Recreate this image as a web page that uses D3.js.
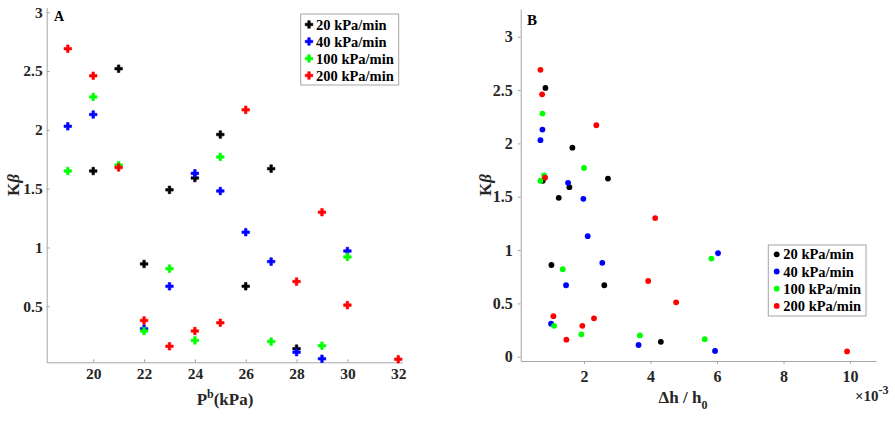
<!DOCTYPE html>
<html>
<head>
<meta charset="utf-8">
<script src="https://cdnjs.cloudflare.com/ajax/libs/d3/7.8.5/d3.min.js"></script>
<style>
  body { margin: 0; background: #fff; }
  svg { display: block; }
  .axis path, .axis line { stroke: #a6a6a6; }
  .axis text { fill: #262626; }
</style>
</head>
<body>
<div id="chart"></div>
<script>
var rates = ["20 kPa/min", "40 kPa/min", "100 kPa/min", "200 kPa/min"];
var colors = ["#000000", "#0000ff", "#00ff00", "#ff0000"];

// breakdown pressure (kPa), K*beta, and strain dh/h0 (x 10^-3)
var pb20 = [20, 21, 22, 23, 24, 25, 26, 27, 28];
var kb20 = [1.65, 2.52, 0.86, 1.49, 1.59, 1.96, 0.67, 1.67, 0.14];
var dh20 = [0.76, 0.84, 1.02, 1.24, 1.56, 1.65, 2.61, 2.72, 4.31];

var pb40 = [19, 20, 22, 23, 24, 25, 26, 27, 28, 29, 30];
var kb40 = [2.03, 2.13, 0.31, 0.67, 1.63, 1.48, 1.13, 0.88, 0.11, 0.054, 0.97];
var dh40 = [0.69, 0.75, 1.01, 1.46, 1.52, 1.98, 2.11, 2.55, 3.64, 5.94, 6.03];

var pb100 = [19, 20, 21, 22, 23, 24, 25, 27, 29, 30];
var kb100 = [1.65, 2.28, 1.70, 0.29, 0.82, 0.21, 1.77, 0.20, 0.165, 0.92];
var dh100 = [0.69, 0.75, 0.80, 1.10, 1.36, 1.92, 2.00, 3.68, 5.63, 5.83];

var pb200 = [19, 20, 21, 22, 23, 24, 25, 26, 28, 29, 30, 32];
var kb200 = [2.69, 2.46, 1.68, 0.38, 0.16, 0.29, 0.36, 2.17, 0.71, 1.30, 0.51, 0.05];
var dh200 = [0.69, 0.74, 0.83, 1.08, 1.47, 1.95, 2.30, 2.37, 3.93, 4.14, 4.77, 9.91];

var xTicksA = [20, 22, 24, 26, 28, 30, 32];
var yTicksA = [0.5, 1, 1.5, 2, 2.5, 3];
var xTicksB = [2, 4, 6, 8, 10];
var yTicksB = [0, 0.5, 1, 1.5, 2, 2.5, 3];

var series = [
  {pb: pb20, kb: kb20, dh: dh20},
  {pb: pb40, kb: kb40, dh: dh40},
  {pb: pb100, kb: kb100, dh: dh100},
  {pb: pb200, kb: kb200, dh: dh200}
];

var serif = "Liberation Serif";
var fmt = d3.format("~g");

var width = 895, height = 445;
var svg = d3.select("#chart").append("svg")
    .attr("width", width)
    .attr("height", height)
    .attr("font-family", serif)
    .attr("font-weight", "bold");

// d3 puts font attrs on the axis group, so overwrite them there
function styleAxis(g, size) {
  g.attr("font-family", serif).attr("font-weight", "bold").attr("font-size", size);
}

// ---------- panel A ----------
var xA = d3.scaleLinear().domain([18.17, 32.16]).range([46.7, 402.3]);
var yA = d3.scaleLinear().domain([0.024, 3.04]).range([362.3, 7.5]);

svg.append("g").attr("class", "axis")
    .attr("transform", "translate(0,362.3)")
    .call(d3.axisBottom(xA).tickValues(xTicksA).tickFormat(fmt).tickSizeInner(-3).tickSizeOuter(0).tickPadding(6))
    .call(g => styleAxis(g, 15.5));

svg.append("g").attr("class", "axis")
    .attr("transform", "translate(46.7,0)")
    .call(d3.axisLeft(yA).tickValues(yTicksA).tickFormat(fmt).tickSizeInner(-3).tickSizeOuter(0).tickPadding(4))
    .call(g => styleAxis(g, 15.5));

var cross = d3.symbol().type(d3.symbolCross).size(32);
series.forEach(function(s, i) {
  svg.append("g").selectAll("path")
      .data(d3.range(s.pb.length))
      .enter().append("path")
      .attr("d", cross)
      .attr("transform", d => "translate(" + xA(s.pb[d]) + "," + yA(s.kb[d]) + ")")
      .attr("fill", colors[i])
      .attr("stroke", colors[i])
      .attr("stroke-width", 0.6);
});

svg.append("text").attr("x", 54).attr("y", 21).attr("font-size", 14).text("A");

svg.append("text")
    .attr("transform", "translate(19,185) rotate(-90)")
    .attr("text-anchor", "middle")
    .attr("font-size", 17)
    .attr("fill", "#262626")
    .html('K<tspan font-style="italic">β</tspan>');

var xlabA = svg.append("text")
    .attr("x", 225).attr("y", 405)
    .attr("text-anchor", "middle")
    .attr("font-size", 17)
    .attr("fill", "#262626");
xlabA.append("tspan").text("P");
xlabA.append("tspan").attr("dy", -7).attr("font-size", 12).text("b");
xlabA.append("tspan").attr("dy", 7).text("(kPa)");

// legend A
var legA = svg.append("g");
legA.append("rect").attr("x", 300.7).attr("y", 14).attr("width", 98).attr("height", 71)
    .attr("fill", "#fff").attr("stroke", "#a6a6a6");
rates.forEach(function(r, i) {
  var yy = 24.5 + i * 17;
  legA.append("path").attr("d", cross).attr("transform", "translate(309," + yy + ")")
      .attr("fill", colors[i]).attr("stroke", colors[i]).attr("stroke-width", 0.6);
  legA.append("text").attr("x", 316).attr("y", yy + 5).attr("font-size", 14.5).text(r);
});

// ---------- panel B ----------
var xB = d3.scaleLinear().domain([0.096, 10.78]).range([520.7, 876]);
var yB = d3.scaleLinear().domain([-0.04, 3.26]).range([361, 9]);

svg.append("g").attr("class", "axis")
    .attr("transform", "translate(0,361)")
    .call(d3.axisBottom(xB).tickValues(xTicksB).tickFormat(fmt).tickSizeInner(3).tickSizeOuter(0).tickPadding(7))
    .call(g => styleAxis(g, 16));

svg.append("g").attr("class", "axis")
    .attr("transform", "translate(520.7,0)")
    .call(d3.axisLeft(yB).tickValues(yTicksB).tickFormat(fmt).tickSizeInner(3).tickSizeOuter(0).tickPadding(5))
    .call(g => styleAxis(g, 16));

series.forEach(function(s, i) {
  svg.append("g").selectAll("circle")
      .data(d3.range(s.dh.length))
      .enter().append("circle")
      .attr("cx", d => xB(s.dh[d]))
      .attr("cy", d => yB(s.kb[d]))
      .attr("r", 2.9)
      .attr("fill", colors[i]);
});

svg.append("text").attr("x", 527).attr("y", 25).attr("font-size", 15).text("B");

svg.append("text")
    .attr("transform", "translate(491,185) rotate(-90)")
    .attr("text-anchor", "middle")
    .attr("font-size", 17)
    .attr("fill", "#262626")
    .html('K<tspan font-style="italic">β</tspan>');

var xlabB = svg.append("text")
    .attr("x", 683).attr("y", 403)
    .attr("text-anchor", "middle")
    .attr("font-size", 17)
    .attr("fill", "#262626");
xlabB.append("tspan").text("Δh / h");
xlabB.append("tspan").attr("dy", 6).attr("font-size", 12).text("0");

var expB = svg.append("text")
    .attr("x", 855).attr("y", 401)
    .attr("font-size", 15)
    .attr("fill", "#262626");
expB.append("tspan").text("×10");
expB.append("tspan").attr("dy", -7).attr("font-size", 12).text("-3");

// legend B
var legB = svg.append("g");
legB.append("rect").attr("x", 768.3).attr("y", 245).attr("width", 97.7).attr("height", 71)
    .attr("fill", "#fff").attr("stroke", "#a6a6a6");
rates.forEach(function(r, i) {
  var yy = 254.3 + i * 17.2;
  legB.append("circle").attr("cx", 776.7).attr("cy", yy).attr("r", 2.9).attr("fill", colors[i]);
  legB.append("text").attr("x", 783.3).attr("y", yy + 5).attr("font-size", 14.5).text(r);
});
</script>
</body>
</html>
